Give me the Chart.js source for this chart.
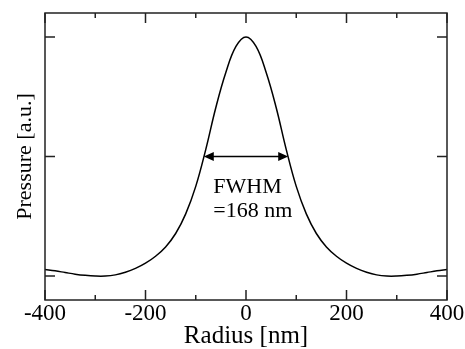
<!DOCTYPE html>
<html>
<head>
<meta charset="utf-8">
<script src="https://cdn.jsdelivr.net/npm/chart.js@4.4.0/dist/chart.umd.min.js"></script>
<style>
  html, body { margin: 0; padding: 0; background: #fff; }
  #contenedor { width: 465px; height: 349px; }
</style>
</head>
<body>
<div id="contenedor"><canvas id="graficoPresion"></canvas></div>
<script>
// Datos: radio [nm] y presion [u.a.]
var radios = [-400, -380, -360, -340, -320, -300, -280, -260, -240, -220, -200,
              -180, -160, -140, -120, -100, -80, -60, -40, -20, 0,
              20, 40, 60, 80, 100, 120, 140, 160, 180, 200,
              220, 240, 260, 280, 300, 320, 340, 360, 380, 400];
var presion = [0.028, 0.022, 0.015, 0.008, 0.003, 0.000, 0.000, 0.005, 0.016, 0.032, 0.054,
               0.083, 0.122, 0.178, 0.260, 0.375, 0.530, 0.705, 0.852, 0.960, 1.000,
               0.960, 0.852, 0.705, 0.530, 0.375, 0.260, 0.178, 0.122, 0.083, 0.054,
               0.032, 0.016, 0.005, 0.000, 0.000, 0.003, 0.008, 0.015, 0.022, 0.028];

// Marcas de los ejes
var ticksX = [-400, -200, 0, 200, 400];
var ticksXMenores = [-300, -100, 100, 300];
var ticksY = [0, 0.5, 1];

// Flecha y texto del FWHM (en coordenadas de datos)
var fwhmExtremos = [-84, 84];
var fwhmAltura = 0.5;
var fwhmTexto = ['FWHM', '=168 nm'];
var fwhmTextoX = -65;
var fwhmTextoY = [0.349, 0.248];

var fuente = '"Liberation Serif", "Times New Roman", serif';

// Dibuja el marco, las marcas hacia dentro y la anotacion FWHM
var marcoPlugin = {
  id: 'marco',
  afterDatasetsDraw: function (chart) {
    var ctx = chart.ctx;
    var area = chart.chartArea;
    var sx = chart.scales.x;
    var sy = chart.scales.y;

    ctx.save();
    ctx.strokeStyle = '#222';
    ctx.lineWidth = 1.5;
    ctx.strokeRect(area.left, area.top, area.right - area.left, area.bottom - area.top);

    ctx.beginPath();
    ticksX.forEach(function (v) {
      var px = sx.getPixelForValue(v);
      ctx.moveTo(px, area.bottom); ctx.lineTo(px, area.bottom - 10);
      ctx.moveTo(px, area.top); ctx.lineTo(px, area.top + 10);
    });
    ticksXMenores.forEach(function (v) {
      var px = sx.getPixelForValue(v);
      ctx.moveTo(px, area.bottom); ctx.lineTo(px, area.bottom - 5);
      ctx.moveTo(px, area.top); ctx.lineTo(px, area.top + 5);
    });
    ticksY.forEach(function (v) {
      var py = sy.getPixelForValue(v);
      ctx.moveTo(area.left, py); ctx.lineTo(area.left + 10, py);
      ctx.moveTo(area.right, py); ctx.lineTo(area.right - 10, py);
    });
    ctx.stroke();

    // Flecha doble
    var x1 = sx.getPixelForValue(fwhmExtremos[0]);
    var x2 = sx.getPixelForValue(fwhmExtremos[1]);
    var yf = sy.getPixelForValue(fwhmAltura);
    ctx.strokeStyle = '#000';
    ctx.fillStyle = '#000';
    ctx.lineWidth = 1.5;
    ctx.beginPath();
    ctx.moveTo(x1 + 6, yf); ctx.lineTo(x2 - 6, yf);
    ctx.stroke();
    ctx.beginPath();
    ctx.moveTo(x1, yf); ctx.lineTo(x1 + 10, yf - 4.5); ctx.lineTo(x1 + 10, yf + 4.5); ctx.closePath();
    ctx.moveTo(x2, yf); ctx.lineTo(x2 - 10, yf - 4.5); ctx.lineTo(x2 - 10, yf + 4.5); ctx.closePath();
    ctx.fill();

    ctx.font = '22px ' + fuente;
    ctx.textAlign = 'left';
    ctx.textBaseline = 'alphabetic';
    fwhmTexto.forEach(function (t, i) {
      ctx.fillText(t, sx.getPixelForValue(fwhmTextoX), sy.getPixelForValue(fwhmTextoY[i]));
    });
    ctx.restore();
  }
};

var datosLinea = {
  datasets: [{
    data: radios.map(function (r, i) { return { x: r, y: presion[i] }; }),
    borderColor: '#000',
    borderWidth: 1.5,
    pointRadius: 0,
    fill: false,
    tension: 0.4
  }]
};

var configuracion = {
  type: 'line',
  data: datosLinea,
  options: {
    responsive: true,
    maintainAspectRatio: false,
    animation: false,
    devicePixelRatio: 1,
    layout: { padding: { top: 13, right: 18, left: 0, bottom: 0 } },
    plugins: { legend: { display: false }, tooltip: { enabled: false } },
    scales: {
      x: {
        type: 'linear',
        min: -400,
        max: 400,
        afterBuildTicks: function (scale) {
          scale.ticks = ticksX.map(function (v) { return { value: v }; });
        },
        afterFit: function (scale) { scale.height = 49; },
        grid: { display: false },
        border: { display: false },
        ticks: { color: '#000', font: { family: fuente, size: 23 }, padding: -8, maxRotation: 0 },
        title: { display: true, text: 'Radius [nm]', color: '#000', font: { family: fuente, size: 25 }, padding: { top: 0, bottom: -2 } }
      },
      y: {
        type: 'linear',
        min: -0.1,
        max: 1.1,
        afterFit: function (scale) { scale.width = 45; },
        grid: { display: false },
        border: { display: false },
        ticks: { display: false },
        title: { display: true, text: 'Pressure [a.u.]', color: '#000', font: { family: fuente, size: 22 }, padding: { top: 12, bottom: 0 } }
      }
    }
  },
  plugins: [marcoPlugin]
};

var ctxPresion = document.getElementById('graficoPresion').getContext('2d');
new Chart(ctxPresion, configuracion);
</script>
</body>
</html>
